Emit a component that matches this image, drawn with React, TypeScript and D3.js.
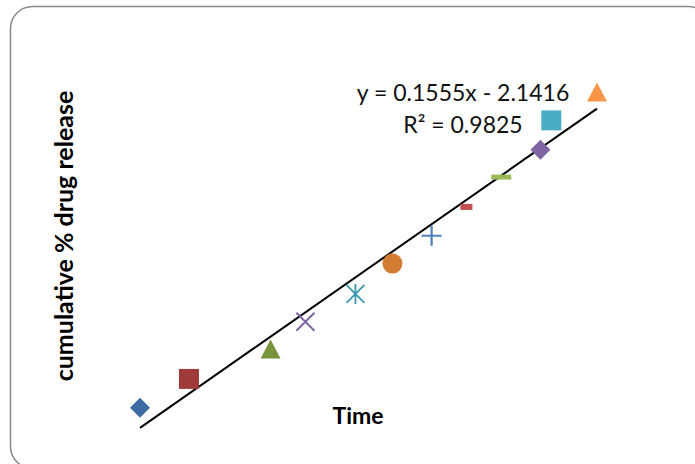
import { useEffect, useRef } from "react";
import * as d3 from "d3";

// time values (hidden x axis) and cumulative release (hidden y axis)
const times = [60, 105, 180, 212, 258, 292, 328, 360, 392, 428, 438, 480];
const release = [11.3, 17.2, 23.2, 28.9, 34.6, 40.8, 46.5, 52.4, 58.4, 64.1, 70.1, 75.8];
const markers = ["diamond", "square", "triangle", "x", "star", "circle", "plus", "shortDash", "dash", "diamond", "square", "triangle"];
const colors = ["#3D6AA2", "#9E3B38", "#77933C", "#7B5FA0", "#3A98AF", "#D27B33", "#4F81BD", "#C0504D", "#9BBB59", "#8064A2", "#4BACC6", "#F79646"];

const slope = 0.1555;
const intercept = -2.1416;
const r2 = 0.9825;

const xTitle = "Time";
const yTitle = "cumulative % drug release";

const markerPath = (type: string) => {
  const s = 10;
  switch (type) {
    case "diamond":
      return `M0,${-s}L${s},0L0,${s}L${-s},0Z`;
    case "square":
      return `M${-s},${-s}H${s}V${s}H${-s}Z`;
    case "triangle":
      return `M0,${-s}L${s},${s * 0.9}L${-s},${s * 0.9}Z`;
    case "circle":
      return d3.arc()({ innerRadius: 0, outerRadius: s, startAngle: 0, endAngle: 2 * Math.PI }) as string;
    default:
      return "";
  }
};

const App = () => {
  const svgRef = useRef<SVGSVGElement>(null);

  useEffect(() => {
    const width = 695;
    const height = 464;
    const svg = d3.select(svgRef.current);
    svg.selectAll("*").remove();
    svg.attr("width", width).attr("height", height);

    svg
      .append("rect")
      .attr("x", 10.5)
      .attr("y", 6.5)
      .attr("width", 700)
      .attr("height", 462)
      .attr("rx", 22)
      .attr("fill", "white")
      .attr("stroke", "#878787")
      .attr("stroke-width", 1.5);

    const x = d3.scaleLinear().domain([60, 480]).range([140, 597]);
    const y = d3.scaleLinear().domain([0, 80]).range([463, 72]);

    // trendline over the data range
    const xs = d3.extent(times) as [number, number];
    svg
      .append("path")
      .datum(xs)
      .attr("fill", "none")
      .attr("stroke", "black")
      .attr("stroke-width", 2)
      .attr(
        "d",
        d3
          .line<number>()
          .x((d) => x(d))
          .y((d) => y(slope * d + intercept))
      );

    // markers
    times.forEach((t, i) => {
      const g = svg.append("g").attr("transform", `translate(${x(t)},${y(release[i])})`);
      const type = markers[i];
      const c = colors[i];
      if (type === "x") {
        g.append("path").attr("d", "M-9,-9L9,9M-9,9L9,-9").attr("stroke", c).attr("stroke-width", 1.8);
      } else if (type === "star") {
        g.append("path")
          .attr("d", "M-9,-9L9,9M-9,9L9,-9M0,-10V10")
          .attr("stroke", c)
          .attr("stroke-width", 1.8);
      } else if (type === "plus") {
        g.append("path").attr("d", "M-10,0H10M0,-10V10").attr("stroke", c).attr("stroke-width", 2.2);
      } else if (type === "shortDash") {
        g.append("rect").attr("x", -6).attr("y", -3).attr("width", 12).attr("height", 6).attr("fill", c);
      } else if (type === "dash") {
        g.append("rect").attr("x", -10).attr("y", -3).attr("width", 20).attr("height", 5).attr("fill", c);
      } else {
        g.append("path").attr("d", markerPath(type)).attr("fill", c);
      }
    });

    const font = "Lato, 'Open Sans', sans-serif";

    svg
      .append("text")
      .attr("x", 463)
      .attr("y", 101)
      .attr("text-anchor", "middle")
      .attr("font-family", font)
      .attr("font-size", 23)
      .attr("fill", "#111")
      .text(`y = ${slope}x - ${Math.abs(intercept)}`);

    svg
      .append("text")
      .attr("x", 463)
      .attr("y", 133)
      .attr("text-anchor", "middle")
      .attr("font-family", font)
      .attr("font-size", 23)
      .attr("fill", "#111")
      .text(`R² = ${r2}`);

    svg
      .append("text")
      .attr("x", 358)
      .attr("y", 424)
      .attr("text-anchor", "middle")
      .attr("font-family", font)
      .attr("font-weight", "bold")
      .attr("font-size", 23)
      .text(xTitle);

    svg
      .append("text")
      .attr("transform", "translate(73,236) rotate(-90)")
      .attr("text-anchor", "middle")
      .attr("font-family", font)
      .attr("font-weight", "bold")
      .attr("font-size", 25)
      .text(yTitle);
  }, []);

  return <svg ref={svgRef} style={{ position: "absolute", left: 0, top: 0 }}></svg>;
};

export default App;
